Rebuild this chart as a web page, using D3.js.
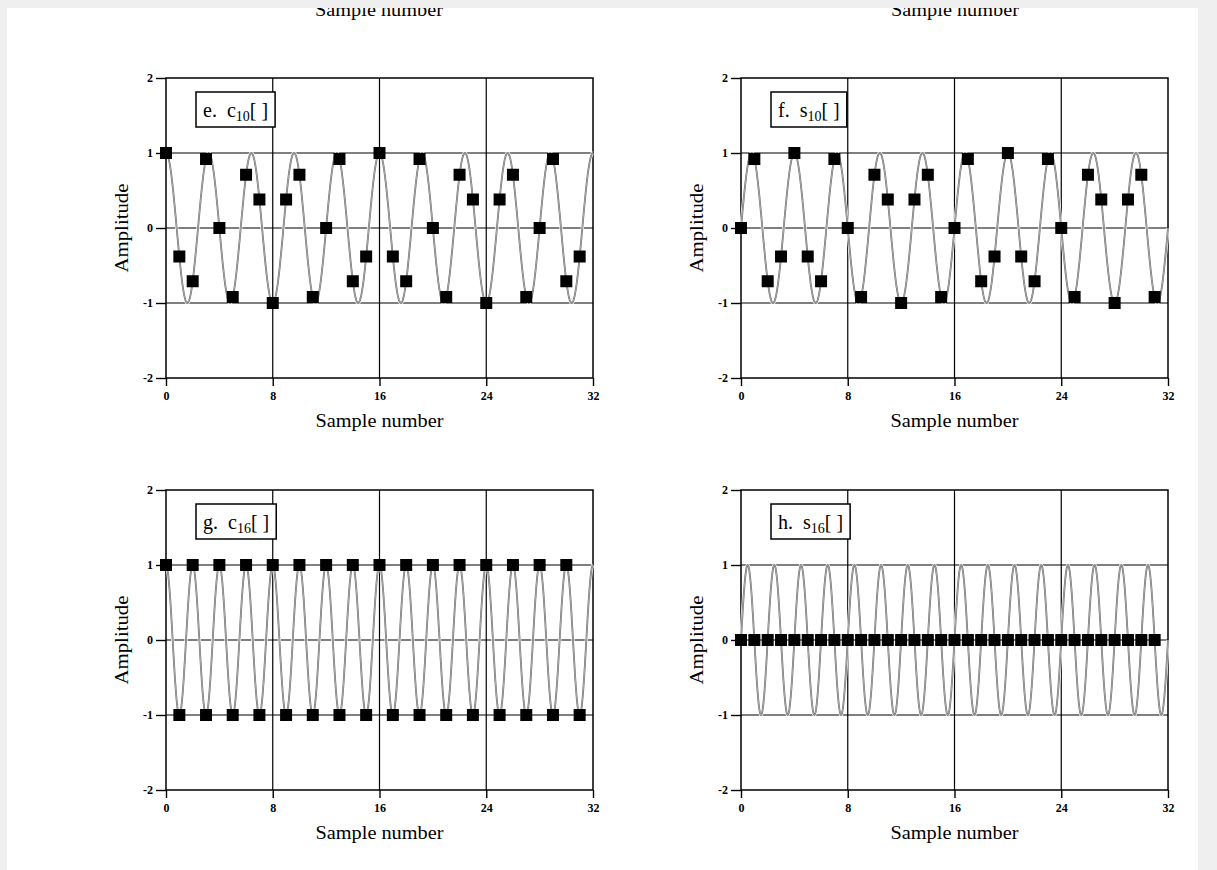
<!DOCTYPE html>
<html>
<head>
<meta charset="utf-8">
<script src="https://cdn.jsdelivr.net/npm/d3@7"></script>
<style>
  body { margin: 0; background: #efefef; }
  svg { display: block; }
</style>
</head>
<body>
<svg id="chart" width="1217" height="870"></svg>
<script>
'use strict';

// sample values (n = 0..31)
var c10 = [1, -0.38, -0.71, 0.92, 0, -0.92, 0.71, 0.38, -1, 0.38, 0.71, -0.92, 0, 0.92, -0.71, -0.38,
           1, -0.38, -0.71, 0.92, 0, -0.92, 0.71, 0.38, -1, 0.38, 0.71, -0.92, 0, 0.92, -0.71, -0.38];
var s10 = [0, 0.92, -0.71, -0.38, 1, -0.38, -0.71, 0.92, 0, -0.92, 0.71, 0.38, -1, 0.38, 0.71, -0.92,
           0, 0.92, -0.71, -0.38, 1, -0.38, -0.71, 0.92, 0, -0.92, 0.71, 0.38, -1, 0.38, 0.71, -0.92];
var c16 = [1, -1, 1, -1, 1, -1, 1, -1, 1, -1, 1, -1, 1, -1, 1, -1,
           1, -1, 1, -1, 1, -1, 1, -1, 1, -1, 1, -1, 1, -1, 1, -1];
var s16 = [0, 0, 0, 0, 0, 0, 0, 0, 0, 0, 0, 0, 0, 0, 0, 0,
           0, 0, 0, 0, 0, 0, 0, 0, 0, 0, 0, 0, 0, 0, 0, 0];

var panelLetters = ["e.", "f.", "g.", "h."];
var panelBase = ["c", "s", "c", "s"];
var panelSub = ["10", "10", "16", "16"];
var panelFreq = [10, 10, 16, 16];     // cycles per 32 samples, for the underlying sinusoid
var panelPhase = ["cos", "sin", "cos", "sin"];
var panelSamples = [c10, s10, c16, s16];

var xTicks = [0, 8, 16, 24, 32];
var yTicks = [-2, -1, 0, 1, 2];
var xGrid = [8, 16, 24];
var yGrid = [-1, 0, 1];

var serif = "'Liberation Serif', 'Times New Roman', serif";

var svg = d3.select("#chart");

// white page with the grey strips left/top/right
svg.append("rect").attr("x", 7).attr("y", 8).attr("width", 1191).attr("height", 862).attr("fill", "#fff");

// clipped axis titles of the panels above
[379, 955].forEach(cx => {
    svg.append("text")
       .attr("x", cx).attr("y", 16)
       .attr("text-anchor", "middle")
       .attr("font-family", serif).attr("font-size", 18)
       .attr("textLength", 128).attr("lengthAdjust", "spacingAndGlyphs")
       .text("Sample number");
});
svg.append("rect").attr("x", 0).attr("y", 0).attr("width", 1217).attr("height", 8).attr("fill", "#efefef");

// panel frames: left x, top y
var panelPos = [[166, 78], [741, 78], [166, 490], [741, 490]];
var plotW = 427, plotH = 300;

panelPos.forEach((pos, i) => {
    var x = d3.scaleLinear().domain([0, 32]).range([pos[0], pos[0] + plotW]);
    var y = d3.scaleLinear().domain([-2, 2]).range([pos[1] + plotH, pos[1]]);
    var g = svg.append("g");

    // grid
    g.selectAll(".vg").data(xGrid).enter().append("line")
     .attr("x1", d => x(d)).attr("x2", d => x(d))
     .attr("y1", y(2)).attr("y2", y(-2))
     .attr("stroke", "#000").attr("stroke-width", 1.2);
    g.selectAll(".hg").data(yGrid).enter().append("line")
     .attr("x1", x(0)).attr("x2", x(32))
     .attr("y1", d => y(d)).attr("y2", d => y(d))
     .attr("stroke", "#000").attr("stroke-width", 1.2);

    // axes (ticks + labels)
    var xAxis = d3.axisBottom(x).tickValues(xTicks).tickSize(8).tickPadding(5).tickFormat(d => String(d));
    var yAxis = d3.axisLeft(y).tickValues(yTicks).tickSize(10).tickPadding(3).tickFormat(d => String(d));
    var ga = g.append("g").attr("transform", "translate(0," + y(-2) + ")").call(xAxis);
    var gb = g.append("g").attr("transform", "translate(" + x(0) + ",0)").call(yAxis);
    [ga, gb].forEach(a => {
        a.select(".domain").remove();
        a.selectAll("line").attr("stroke", "#000").attr("stroke-width", 1.4);
        a.selectAll("text").attr("fill", "#000")
         .attr("font-family", serif).attr("font-weight", "bold").attr("font-size", 12);
    });

    // frame
    g.append("rect")
     .attr("x", x(0)).attr("y", y(2))
     .attr("width", x(32) - x(0)).attr("height", y(-2) - y(2))
     .attr("fill", "none").attr("stroke", "#000").attr("stroke-width", 1.5);

    // underlying continuous sinusoid
    var f = panelFreq[i];
    var wave = d3.range(0, 32.001, 0.02).map(t => [t,
        panelPhase[i] == "cos" ? Math.cos(2 * Math.PI * f * t / 32) : Math.sin(2 * Math.PI * f * t / 32)]);
    var line = d3.line().x(d => x(d[0])).y(d => y(d[1]));
    g.append("path").datum(wave).attr("d", line)
     .attr("fill", "none").attr("stroke", "#fff").attr("stroke-width", 3.2);
    g.append("path").datum(wave).attr("d", line)
     .attr("fill", "none").attr("stroke", "#666").attr("stroke-width", 1.8);
    g.append("path").datum(wave).attr("d", line)
     .attr("fill", "none").attr("stroke", "#c8c8c8").attr("stroke-width", 0.7);

    // sample markers
    var sq = 12;
    g.selectAll(".pt").data(panelSamples[i]).enter().append("rect")
     .attr("x", (d, n) => x(n) - sq / 2).attr("y", d => y(d) - sq / 2)
     .attr("width", sq).attr("height", sq).attr("fill", "#000");

    // label box
    var lb = g.append("g");
    var txt = lb.append("text")
     .attr("x", pos[0] + 37).attr("y", pos[1] + 39)
     .attr("font-family", serif).attr("font-size", 20).attr("fill", "#000");
    txt.append("tspan").text(panelLetters[i] + "\u00a0\u00a0" + panelBase[i]);
    txt.append("tspan").attr("font-size", 14).attr("dy", 4).text(panelSub[i]);
    txt.append("tspan").attr("dy", -4).text("[\u00a0]");
    var bb = txt.node().getBBox();
    lb.insert("rect", "text")
     .attr("x", pos[0] + 30).attr("y", pos[1] + 14)
     .attr("width", bb.width + 14).attr("height", 35)
     .attr("fill", "#fff").attr("stroke", "#000").attr("stroke-width", 1.5);

    // axis titles
    g.append("text")
     .attr("x", x(16)).attr("y", y(-2) + 49)
     .attr("text-anchor", "middle")
     .attr("font-family", serif).attr("font-size", 18)
     .attr("textLength", 128).attr("lengthAdjust", "spacingAndGlyphs")
     .text("Sample number");
    g.append("text")
     .attr("transform", "translate(" + (x(0) - 38) + "," + y(0) + ") rotate(-90)")
     .attr("text-anchor", "middle")
     .attr("font-family", serif).attr("font-size", 18)
     .attr("textLength", 89).attr("lengthAdjust", "spacingAndGlyphs")
     .text("Amplitude");
});
</script>
</body>
</html>
